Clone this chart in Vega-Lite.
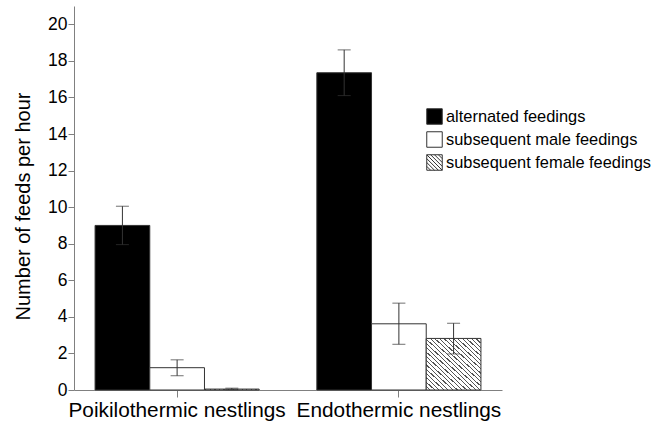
{
  "$schema": "https://vega.github.io/schema/vega-lite/v6.json",
  "autosize": {"type": "none"},
  "padding": {"left": 74, "top": 6, "right": 149, "bottom": 35},
  "width": 428,
  "height": 384,
  "config": {
    "font": "Liberation Sans",
    "view": {"stroke": null},
    "axis": {"grid": false, "domainColor": "#808080", "tickColor": "#808080", "labelColor": "#000", "titleColor": "#000", "labelFont": "Liberation Sans", "titleFont": "Liberation Sans"},
    "axisY": {"labelFontSize": 17.5, "titleFontSize": 20, "titleFontWeight": "normal", "tickSize": 6, "labelPadding": 1, "titleX": -41, "titleY": 200},
    "legend": {"labelFont": "Liberation Sans"}
  },
  "data": {
    "values": [
      {"group": "Poikilothermic nestlings", "series": "alternated feedings", "mean": 9.0, "lo": 7.95, "hi": 10.05},
      {"group": "Poikilothermic nestlings", "series": "subsequent male feedings", "mean": 1.22, "lo": 0.78, "hi": 1.65},
      {"group": "Poikilothermic nestlings", "series": "subsequent female feedings", "mean": 0.05, "lo": 0.02, "hi": 0.1},
      {"group": "Endothermic nestlings", "series": "alternated feedings", "mean": 17.35, "lo": 16.1, "hi": 18.6},
      {"group": "Endothermic nestlings", "series": "subsequent male feedings", "mean": 3.62, "lo": 2.5, "hi": 4.75},
      {"group": "Endothermic nestlings", "series": "subsequent female feedings", "mean": 2.82, "lo": 1.97, "hi": 3.65}
    ]
  },
  "encoding": {
    "x": {
      "field": "group", "type": "nominal",
      "sort": ["Poikilothermic nestlings", "Endothermic nestlings"],
      "scale": {"paddingInner": 0.26, "paddingOuter": 0.095},
      "axis": {"title": null, "labelAngle": 0, "labelFontSize": 20.8, "labelLimit": 400, "tickSize": 7, "labelPadding": 3, "domainColor": "#808080"}
    },
    "xOffset": {
      "field": "series", "type": "nominal",
      "sort": ["alternated feedings", "subsequent male feedings", "subsequent female feedings"],
      "scale": {"paddingInner": 0, "paddingOuter": 0}
    }
  },
  "layer": [
    {
      "mark": {"type": "bar", "stroke": "#333", "strokeWidth": 1},
      "encoding": {
        "y": {
          "field": "mean", "type": "quantitative",
          "scale": {"domain": [0, 21], "nice": false},
          "axis": {"title": "Number of feeds per hour", "values": [0, 2, 4, 6, 8, 10, 12, 14, 16, 18, 20], "labelOverlap": false}
        },
        "fill": {
          "condition": {
            "test": "datum.series === 'subsequent female feedings'",
            "value": {"gradient": "linear", "x1": 0, "y1": 1, "x2": 1, "y2": 0, "stops": [
                {"offset": 0, "color": "#ffffff"}, {"offset": 0.0306, "color": "#ffffff"}, {"offset": 0.0306, "color": "#555555"}, {"offset": 0.0417, "color": "#555555"}, {"offset": 0.0417, "color": "#ffffff"},
                {"offset": 0.0722, "color": "#ffffff"}, {"offset": 0.0722, "color": "#555555"}, {"offset": 0.0833, "color": "#555555"}, {"offset": 0.0833, "color": "#ffffff"},
                {"offset": 0.1139, "color": "#ffffff"}, {"offset": 0.1139, "color": "#555555"}, {"offset": 0.125, "color": "#555555"}, {"offset": 0.125, "color": "#ffffff"},
                {"offset": 0.1556, "color": "#ffffff"}, {"offset": 0.1556, "color": "#555555"}, {"offset": 0.1667, "color": "#555555"}, {"offset": 0.1667, "color": "#ffffff"},
                {"offset": 0.1972, "color": "#ffffff"}, {"offset": 0.1972, "color": "#555555"}, {"offset": 0.2083, "color": "#555555"}, {"offset": 0.2083, "color": "#ffffff"},
                {"offset": 0.2389, "color": "#ffffff"}, {"offset": 0.2389, "color": "#555555"}, {"offset": 0.25, "color": "#555555"}, {"offset": 0.25, "color": "#ffffff"},
                {"offset": 0.2806, "color": "#ffffff"}, {"offset": 0.2806, "color": "#555555"}, {"offset": 0.2917, "color": "#555555"}, {"offset": 0.2917, "color": "#ffffff"},
                {"offset": 0.3222, "color": "#ffffff"}, {"offset": 0.3222, "color": "#555555"}, {"offset": 0.3333, "color": "#555555"}, {"offset": 0.3333, "color": "#ffffff"},
                {"offset": 0.3639, "color": "#ffffff"}, {"offset": 0.3639, "color": "#555555"}, {"offset": 0.375, "color": "#555555"}, {"offset": 0.375, "color": "#ffffff"},
                {"offset": 0.4056, "color": "#ffffff"}, {"offset": 0.4056, "color": "#555555"}, {"offset": 0.4167, "color": "#555555"}, {"offset": 0.4167, "color": "#ffffff"},
                {"offset": 0.4472, "color": "#ffffff"}, {"offset": 0.4472, "color": "#555555"}, {"offset": 0.4583, "color": "#555555"}, {"offset": 0.4583, "color": "#ffffff"},
                {"offset": 0.4889, "color": "#ffffff"}, {"offset": 0.4889, "color": "#555555"}, {"offset": 0.5, "color": "#555555"}, {"offset": 0.5, "color": "#ffffff"},
                {"offset": 0.5306, "color": "#ffffff"}, {"offset": 0.5306, "color": "#555555"}, {"offset": 0.5417, "color": "#555555"}, {"offset": 0.5417, "color": "#ffffff"},
                {"offset": 0.5722, "color": "#ffffff"}, {"offset": 0.5722, "color": "#555555"}, {"offset": 0.5833, "color": "#555555"}, {"offset": 0.5833, "color": "#ffffff"},
                {"offset": 0.6139, "color": "#ffffff"}, {"offset": 0.6139, "color": "#555555"}, {"offset": 0.625, "color": "#555555"}, {"offset": 0.625, "color": "#ffffff"},
                {"offset": 0.6556, "color": "#ffffff"}, {"offset": 0.6556, "color": "#555555"}, {"offset": 0.6667, "color": "#555555"}, {"offset": 0.6667, "color": "#ffffff"},
                {"offset": 0.6972, "color": "#ffffff"}, {"offset": 0.6972, "color": "#555555"}, {"offset": 0.7083, "color": "#555555"}, {"offset": 0.7083, "color": "#ffffff"},
                {"offset": 0.7389, "color": "#ffffff"}, {"offset": 0.7389, "color": "#555555"}, {"offset": 0.75, "color": "#555555"}, {"offset": 0.75, "color": "#ffffff"},
                {"offset": 0.7806, "color": "#ffffff"}, {"offset": 0.7806, "color": "#555555"}, {"offset": 0.7917, "color": "#555555"}, {"offset": 0.7917, "color": "#ffffff"},
                {"offset": 0.8222, "color": "#ffffff"}, {"offset": 0.8222, "color": "#555555"}, {"offset": 0.8333, "color": "#555555"}, {"offset": 0.8333, "color": "#ffffff"},
                {"offset": 0.8639, "color": "#ffffff"}, {"offset": 0.8639, "color": "#555555"}, {"offset": 0.875, "color": "#555555"}, {"offset": 0.875, "color": "#ffffff"},
                {"offset": 0.9056, "color": "#ffffff"}, {"offset": 0.9056, "color": "#555555"}, {"offset": 0.9167, "color": "#555555"}, {"offset": 0.9167, "color": "#ffffff"},
                {"offset": 0.9472, "color": "#ffffff"}, {"offset": 0.9472, "color": "#555555"}, {"offset": 0.9583, "color": "#555555"}, {"offset": 0.9583, "color": "#ffffff"},
                {"offset": 0.9889, "color": "#ffffff"}, {"offset": 0.9889, "color": "#555555"}, {"offset": 1, "color": "#555555"}
              ]}
          },
          "field": "series", "type": "nominal",
          "sort": ["alternated feedings", "subsequent male feedings", "subsequent female feedings"],
          "scale": {
            "domain": ["alternated feedings", "subsequent male feedings", "subsequent female feedings"],
            "range": ["#000000", "#ffffff", "#ffffff"]
          },
          "legend": {
            "title": null, "orient": "none", "legendX": 352, "legendY": 102,
            "symbolType": "square", "symbolSize": 240, "symbolStrokeColor": "#333", "symbolStrokeWidth": 1,
            "labelFontSize": 16.4, "labelColor": "#000", "labelOffset": 3, "rowPadding": 2, "labelLimit": 400,
            "encode": {
              "symbols": {
                "update": {
                  "stroke": {"value": "#333"},
                  "strokeWidth": {"value": 1},
                  "shape": {"signal": "datum.value === 'subsequent female feedings' ? 'M-1,-1H1V1H-1Z M-1,-1L1,1 M-0.5,-1L1,0.5 M0,-1L1,0 M0.5,-1L1,-0.5 M-1,-0.5L0.5,1 M-1,0L0,1 M-1,0.5L-0.5,1' : 'square'"}
                }
              }
            }
          }
        }
      }
    },
    {
      "mark": {"type": "rule", "color": "#333", "strokeWidth": 1},
      "encoding": {
        "y": {"field": "lo", "type": "quantitative", "axis": {"title": "Number of feeds per hour", "values": [0, 2, 4, 6, 8, 10, 12, 14, 16, 18, 20], "labelOverlap": false}},
        "y2": {"field": "hi"}
      }
    },
    {
      "mark": {"type": "tick", "color": "#333", "thickness": 1, "size": 13},
      "encoding": {"y": {"field": "hi", "type": "quantitative", "axis": {"title": "Number of feeds per hour", "values": [0, 2, 4, 6, 8, 10, 12, 14, 16, 18, 20], "labelOverlap": false}}}
    },
    {
      "mark": {"type": "tick", "color": "#333", "thickness": 1, "size": 13},
      "encoding": {"y": {"field": "lo", "type": "quantitative", "axis": {"title": "Number of feeds per hour", "values": [0, 2, 4, 6, 8, 10, 12, 14, 16, 18, 20], "labelOverlap": false}}}
    }
  ]
}
